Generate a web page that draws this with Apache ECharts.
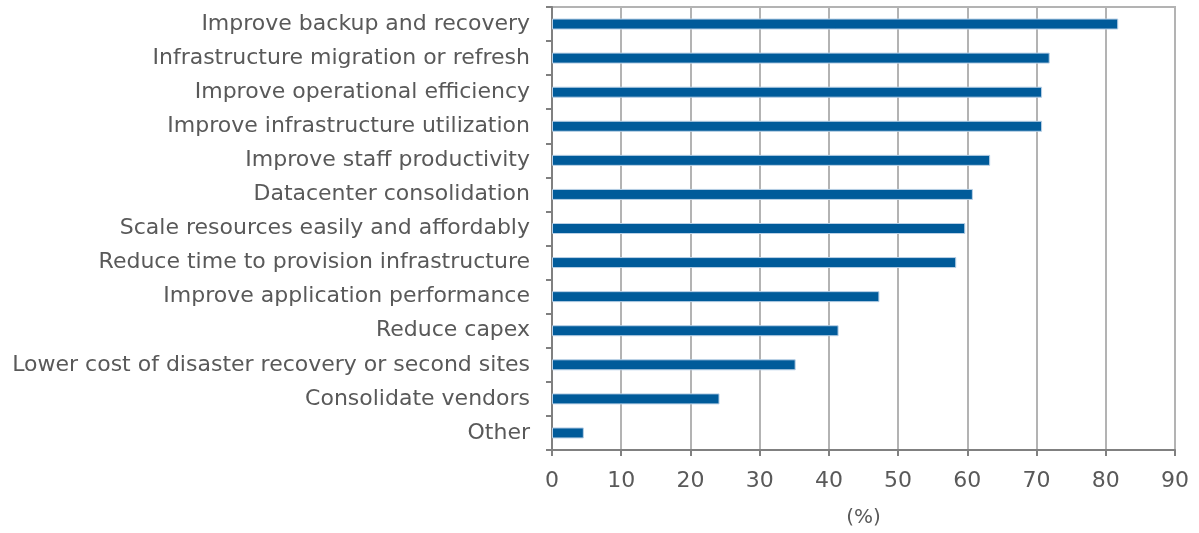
<!DOCTYPE html>
<html>
<head>
<meta charset="utf-8">
<script src="https://cdn.jsdelivr.net/npm/echarts@6/dist/echarts.min.js"></script>
<style>
  html, body { margin: 0; padding: 0; background: #ffffff; }
  #chart { width: 1199px; height: 533px; }
</style>
</head>
<body>
<div id="chart"></div>
<script>
// Reasons, listed from top to bottom
const categories = [
  'Improve backup and recovery',
  'Infrastructure migration or refresh',
  'Improve operational efficiency',
  'Improve infrastructure utilization',
  'Improve staff productivity',
  'Datacenter consolidation',
  'Scale resources easily and affordably',
  'Reduce time to provision infrastructure',
  'Improve application performance',
  'Reduce capex',
  'Lower cost of disaster recovery or second sites',
  'Consolidate vendors',
  'Other'
];
// Share of respondents (%)
const values = [81.8, 71.9, 70.8, 70.8, 63.3, 60.8, 59.7, 58.4, 47.3, 41.4, 35.2, 24.2, 4.6];
const xTicks = [0, 10, 20, 30, 40, 50, 60, 70, 80, 90];

const FONT = 'DejaVu Sans';
const TEXT = '#595959';

const chart = echarts.init(document.getElementById('chart'), null, { renderer: 'canvas' });
chart.setOption({
  animation: false,
  backgroundColor: '#ffffff',
  textStyle: { fontFamily: FONT },
  grid: {
    left: 552, right: 24, top: 7, bottom: 82,
    show: true, borderColor: '#b3b3b3', borderWidth: 2
  },
  xAxis: {
    type: 'value',
    min: xTicks[0],
    max: xTicks[xTicks.length - 1],
    interval: 10,
    name: '(%)',
    nameLocation: 'middle',
    nameGap: 58,
    nameTextStyle: { color: TEXT, fontSize: 20, fontFamily: FONT },
    axisLine: { show: true, lineStyle: { color: '#808080', width: 2 } },
    axisTick: { show: true, length: 6, lineStyle: { color: '#808080', width: 2 } },
    axisLabel: { color: TEXT, fontSize: 22, fontFamily: FONT, margin: 20 },
    splitLine: { show: true, lineStyle: { color: '#b3b3b3', width: 2 } }
  },
  yAxis: {
    type: 'category',
    inverse: true,
    data: categories,
    axisLine: { show: true, lineStyle: { color: '#808080', width: 2 } },
    axisTick: { show: true, length: 6, lineStyle: { color: '#808080', width: 2 } },
    axisLabel: { color: TEXT, fontSize: 22, fontFamily: FONT, margin: 22 },
    splitLine: { show: false }
  },
  series: [{
    type: 'bar',
    data: values,
    barWidth: 11,
    itemStyle: { color: '#005b9a', borderColor: '#b9d0e6', borderWidth: 1 }
  }]
});
</script>
</body>
</html>
